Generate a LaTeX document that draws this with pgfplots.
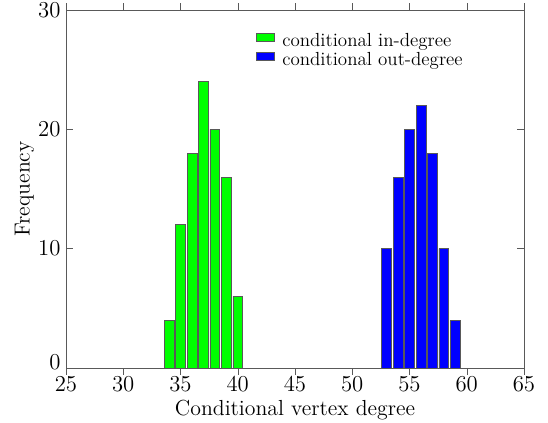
\documentclass[border=0pt]{standalone}
\usepackage{pgfplots}
\pgfplotsset{compat=1.18}
\begin{document}
\begin{tikzpicture}
\begin{axis}[
  name=ax,
  scale only axis,
  width=290pt, height=226.7pt,
  xmin=25, xmax=65, ymin=0, ymax=30,
  xtick={25,30,...,65}, ytick={10,20,30},
  extra y ticks={0},
  extra y tick style={yticklabel style={yshift=3.5pt}},
  tick align=inside,
  axis line style={gray!70!black},
  major tick style={gray!70!black},
  tick label style={font=\fontsize{13.8}{16}\selectfont},
  xticklabel style={yshift=2pt},
  label style={font=\fontsize{13.8}{16}\selectfont},
  xlabel={Conditional vertex degree},
  ylabel={Frequency},
  xlabel style={at={([yshift=-30pt]axis description cs:0.5,0)}, anchor=base},
  ylabel style={at={([xshift=-23pt]axis description cs:0,0.5)}, anchor=base, rotate=0},
  ybar, bar width=0.85, bar shift=0pt,
  legend style={at={(0.415,0.945)}, anchor=north west, draw=none, fill=none,
    inner sep=0pt, font=\fontsize{12}{14}\selectfont, row sep=-1.5pt,
    nodes={inner sep=2pt}},
  legend cell align=left,
  legend image code/.code={\draw[#1, draw=gray!70!black] (0pt,0pt) rectangle (11.4pt,5pt);
     \path (14pt,0pt);},
]
\addplot[fill={rgb,255:red,0;green,255;blue,0}, draw=gray!70!black] coordinates {
 (34,4) (35,12) (36,18) (37,24) (38,20) (39,16) (40,6)};
\addplot[fill={rgb,255:red,0;green,0;blue,255}, draw=gray!70!black] coordinates {
 (53,10) (54,16) (55,20) (56,22) (57,18) (58,10) (59,4)};
\legend{conditional in-degree, conditional out-degree}
\end{axis}
\pgfresetboundingbox
\path ([shift={(-41.8pt,-34.8pt)}]ax.south west) rectangle ([shift={(15.2pt,6.3pt)}]ax.north east);
\end{tikzpicture}
\end{document}
